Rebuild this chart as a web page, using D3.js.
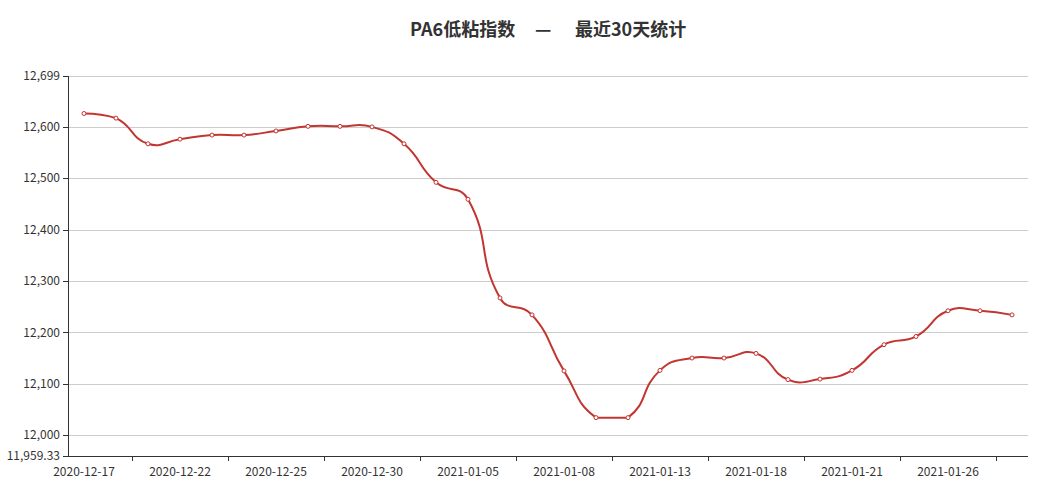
<!DOCTYPE html>
<html>
<head>
<meta charset="utf-8">
<script src="https://cdn.jsdelivr.net/npm/d3@7"></script>
<style>
  html, body { margin: 0; padding: 0; background: #fff; }
  svg { display: block; }
  text { font-family: "Microsoft YaHei", "Noto Sans CJK SC", "Noto Sans", sans-serif; }
</style>
</head>
<body>
<svg id="chart" width="1039" height="488"></svg>
<script>
// ---- data ----
const titleMain = "PA6低粘指数";
const titleDash = "—";
const titleSub = "最近30天统计";

const dates = [
  "2020-12-17","2020-12-18","2020-12-21","2020-12-22","2020-12-23","2020-12-24",
  "2020-12-25","2020-12-28","2020-12-29","2020-12-30","2020-12-31","2021-01-04",
  "2021-01-05","2021-01-06","2021-01-07","2021-01-08","2021-01-11","2021-01-12",
  "2021-01-13","2021-01-14","2021-01-15","2021-01-18","2021-01-19","2021-01-20",
  "2021-01-21","2021-01-22","2021-01-25","2021-01-26","2021-01-27","2021-01-28"
];
const values = [
  12626, 12617, 12567, 12576, 12584, 12584,
  12592, 12601, 12601, 12600, 12567, 12492,
  12459, 12267, 12234, 12125, 12034, 12034,
  12126, 12150, 12150, 12159, 12108, 12109,
  12126, 12176, 12192, 12242, 12242, 12234
];
const yMin = 11959.33;
const yMax = 12699;
const yTicks = [11959.33, 12000, 12100, 12200, 12300, 12400, 12500, 12600, 12699];
const labelEvery = 3;

(function () {
// ---- layout ----
const svg = d3.select("#chart");
const gLeft = 68, gRight = 1028, gTop = 76, gBottom = 456;
const lineColor = "#c23531";
const axisColor = "#333";

const x = d3.scaleBand().domain(dates).range([gLeft, gRight]);
const y = d3.scaleLinear().domain([yMin, yMax]).range([gBottom, gTop]);
const cx = d => x(d) + x.bandwidth() / 2;
const fmt = d3.format(",");

// title
const title = svg.append("text")
  .attr("y", 35.5)
  .attr("font-size", 18)
  .attr("font-weight", "bold")
  .attr("fill", "#333");
title.append("tspan").attr("x", 410).text(titleMain);
title.append("tspan").attr("x", 535).text(titleDash);
title.append("tspan").attr("x", 575).text(titleSub);

// grid lines
svg.append("g").selectAll("line")
  .data(yTicks.filter(t => t !== yMin))
  .join("line")
  .attr("x1", gLeft).attr("x2", gRight)
  .attr("y1", d => Math.round(y(d)) + 0.5).attr("y2", d => Math.round(y(d)) + 0.5)
  .attr("stroke", "#ccc").attr("stroke-width", 1);

// y axis
const yAxisG = svg.append("g");
yAxisG.append("line")
  .attr("x1", gLeft + 0.5).attr("x2", gLeft + 0.5)
  .attr("y1", gTop).attr("y2", gBottom)
  .attr("stroke", axisColor);
yAxisG.selectAll("line.tick")
  .data(yTicks).join("line").attr("class", "tick")
  .attr("x1", gLeft - 5).attr("x2", gLeft)
  .attr("y1", d => Math.round(y(d)) + 0.5).attr("y2", d => Math.round(y(d)) + 0.5)
  .attr("stroke", axisColor);
yAxisG.selectAll("text")
  .data(yTicks).join("text")
  .attr("x", gLeft - 8)
  .attr("y", d => y(d))
  .attr("dy", "0.35em")
  .attr("text-anchor", "end")
  .attr("font-size", 12)
  .attr("fill", axisColor)
  .text(d => fmt(d));

// x axis
const xAxisG = svg.append("g");
xAxisG.append("line")
  .attr("x1", gLeft).attr("x2", gRight)
  .attr("y1", Math.round(gBottom) + 0.5).attr("y2", Math.round(gBottom) + 0.5)
  .attr("stroke", axisColor);
const tickDates = dates.filter((d, i) => i % labelEvery === labelEvery - 1);
xAxisG.selectAll("line.tick")
  .data(tickDates).join("line").attr("class", "tick")
  .attr("x1", d => Math.round(x(d)) + 0.5).attr("x2", d => Math.round(x(d)) + 0.5)
  .attr("y1", gBottom).attr("y2", gBottom + 5)
  .attr("stroke", axisColor);
xAxisG.selectAll("text")
  .data(dates.filter((d, i) => i % labelEvery === 0)).join("text")
  .attr("x", d => cx(d))
  .attr("y", 476)
  .attr("text-anchor", "middle")
  .attr("font-size", 12)
  .attr("fill", axisColor)
  .text(d => d);

// smooth line (echarts-4 style bezier with bbox constraint)
const pts = dates.map((d, i) => [cx(d), y(values[i])]);
const smooth = 0.5;
const minX = d3.min(pts, p => p[0]), maxX = d3.max(pts, p => p[0]);
const minY = d3.min(pts, p => p[1]), maxY = d3.max(pts, p => p[1]);
const clamp = p => [Math.max(minX, Math.min(maxX, p[0])), Math.max(minY, Math.min(maxY, p[1]))];
const cpIn = [], cpOut = [];
pts.forEach((p, i) => {
  if (i === 0 || i === pts.length - 1) { cpIn[i] = p; cpOut[i] = p; return; }
  const prev = pts[i - 1], next = pts[i + 1];
  const vx = next[0] - prev[0], vy = next[1] - prev[1];
  const dPrev = Math.hypot(p[0] - prev[0], p[1] - prev[1]);
  const dNext = Math.hypot(next[0] - p[0], next[1] - p[1]);
  const r = dNext / (dPrev + dNext);
  cpIn[i] = clamp([p[0] - vx * smooth * (1 - r), p[1] - vy * smooth * (1 - r)]);
  cpOut[i] = clamp([p[0] + vx * smooth * r, p[1] + vy * smooth * r]);
});
const path = d3.path();
path.moveTo(pts[0][0], pts[0][1]);
for (let i = 1; i < pts.length; i++) {
  path.bezierCurveTo(cpOut[i - 1][0], cpOut[i - 1][1], cpIn[i][0], cpIn[i][1], pts[i][0], pts[i][1]);
}
svg.append("path")
  .attr("d", path.toString())
  .attr("fill", "none")
  .attr("stroke", lineColor)
  .attr("stroke-width", 2)
  .attr("stroke-linejoin", "bevel");

// symbols
svg.append("g").selectAll("circle")
  .data(values).join("circle")
  .attr("cx", (v, i) => cx(dates[i]))
  .attr("cy", v => y(v))
  .attr("r", 2)
  .attr("fill", "#fff")
  .attr("stroke", lineColor)
  .attr("stroke-width", 1);
})();
</script>
</body>
</html>
